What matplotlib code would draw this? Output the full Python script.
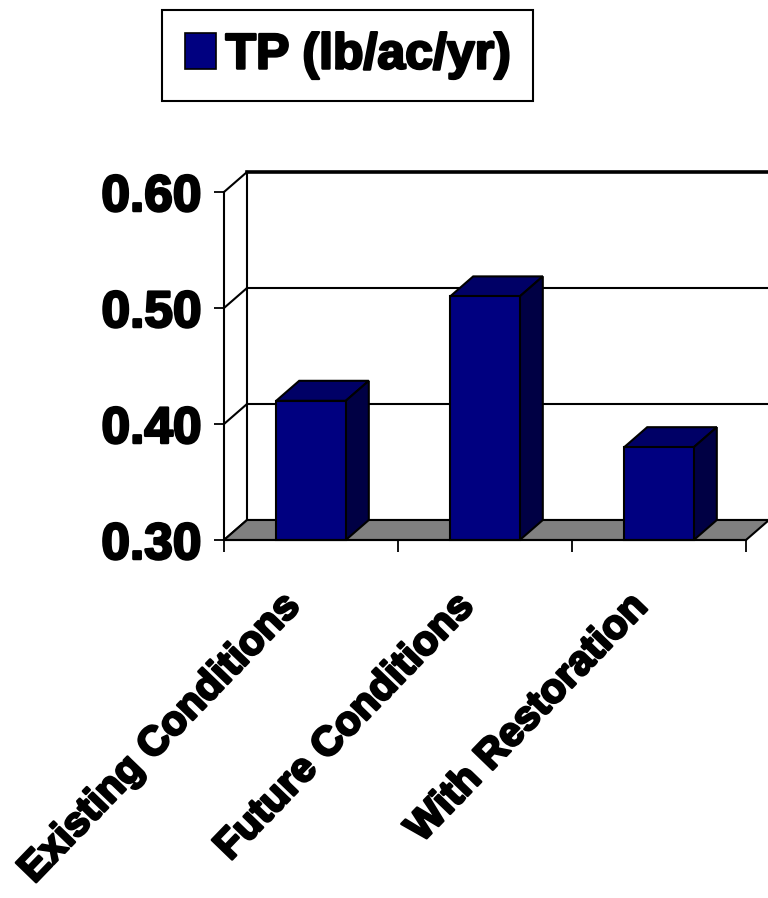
import matplotlib
matplotlib.use("Agg")
import matplotlib.pyplot as plt
from matplotlib.patches import Polygon, Patch
from matplotlib.lines import Line2D
import matplotlib.patheffects as pe
import matplotlib.transforms as mtransforms

# --- data -------------------------------------------------------------
categories = ["Existing Conditions", "Future Conditions", "With Restoration"]
tp_values = [0.42, 0.51, 0.38]
series_name = "TP (lb/ac/yr)"
y_ticks = [0.30, 0.40, 0.50, 0.60]
y_tick_labels = ["0.30", "0.40", "0.50", "0.60"]

# --- style ------------------------------------------------------------
FONT = "Liberation Sans"
FRONT = "#000080"
TOP = "#000066"
SIDE = "#000044"
FLOOR = "#808080"
heavy = [pe.withStroke(linewidth=1.8, foreground="black")]

W, H = 768, 898
fig = plt.figure(figsize=(W / 100, H / 100), dpi=100)

# front plane of the plot area, in pixels
x0, x1 = 224, 746
y_bot, y_top = 540, 192
ax = fig.add_axes([x0 / W, (H - y_bot) / H, (x1 - x0) / W, (y_bot - y_top) / H])
ymin, ymax = 0.30, 0.60
ax.set_xlim(0, len(categories))
ax.set_ylim(ymin, ymax)
ax.patch.set_visible(False)

# depth offset of the 3-D box, in data units
dx = 23 / (x1 - x0) * len(categories)
dy = 20 / (y_bot - y_top) * (ymax - ymin)

ncat = len(categories)
kw = dict(clip_on=False)

# back wall: gridlines with their diagonals on the left side wall
for v in y_ticks:
    lw = 2.6 if v == ymax else 1.5
    ax.add_line(Line2D([dx, ncat + dx], [v + dy, v + dy], color="black", lw=lw, zorder=1, **kw))
    ax.add_line(Line2D([0, dx], [v, v + dy], color="black", lw=1.5, zorder=1, **kw))
ax.add_line(Line2D([dx, dx], [ymin + dy, ymax + dy], color="black", lw=1.5, zorder=1, **kw))
ax.add_line(Line2D([ncat + dx, ncat + dx], [ymin + dy, ymax + dy], color="#c8c8c8", lw=1.2, zorder=1, **kw))

# floor
ax.add_patch(Polygon([(0, ymin), (ncat, ymin), (ncat + dx, ymin + dy), (dx, ymin + dy)],
                     closed=True, facecolor=FLOOR, edgecolor="black", lw=1.5, zorder=2, **kw))

# bars: front face via ax.bar, top and side faces as polygons
bw = 0.40
centers = [i + 0.5 for i in range(ncat)]
ax.bar(centers, [v - ymin for v in tp_values], bottom=ymin, width=bw, color=FRONT,
       edgecolor="black", linewidth=1.5, zorder=4, clip_on=False)
for c, v in zip(centers, tp_values):
    l, r = c - bw / 2, c + bw / 2
    ax.add_patch(Polygon([(l, v), (r, v), (r + dx, v + dy), (l + dx, v + dy)], closed=True,
                         facecolor=TOP, edgecolor="black", lw=1.5, zorder=3, **kw))
    ax.add_patch(Polygon([(r, ymin), (r + dx, ymin + dy), (r + dx, v + dy), (r, v)], closed=True,
                         facecolor=SIDE, edgecolor="black", lw=1.5, zorder=3, **kw))

# axes lines and ticks
for s in ["top", "right"]:
    ax.spines[s].set_visible(False)
for s in ["left", "bottom"]:
    ax.spines[s].set_linewidth(1.5)
    ax.spines[s].set_zorder(5)
ax.set_yticks(y_ticks)
ax.set_yticklabels(y_tick_labels)
ax.tick_params(axis="y", length=7.2, width=1.3, pad=9, labelsize=37)
for t in ax.get_yticklabels():
    t.set_fontfamily(FONT)
    t.set_fontweight("bold")
    t.set_path_effects(heavy)
ax.set_xticks(range(ncat + 1))
ax.tick_params(axis="x", length=8.6, width=1.3, labelbottom=False)

# category labels, rotated and ending just left of each category centre
label_trans = ax.get_xaxis_transform() + mtransforms.ScaledTranslation(-10 / 100, -68 / 100,
                                                                       fig.dpi_scale_trans)
for c, name in zip(centers, categories):
    ax.text(c, 0, name, transform=label_trans, rotation=46, rotation_mode="anchor",
            ha="right", va="baseline", fontsize=29.5, fontfamily=FONT, fontweight="bold",
            path_effects=heavy, clip_on=False)

# legend
leg = fig.legend(handles=[Patch(facecolor=FRONT, edgecolor="black", linewidth=1.2, label=series_name)],
                 loc="upper left", bbox_to_anchor=(162 / W, 1 - 10 / H), borderaxespad=0,
                 prop=dict(family=FONT, weight="bold", size=36),
                 handlelength=0.62, handleheight=0.72, handletextpad=0.2,
                 borderpad=0.45, fancybox=False, framealpha=1, edgecolor="black")
leg.get_frame().set_linewidth(1.5)
for t in leg.get_texts():
    t.set_path_effects(heavy)

fig.savefig("out.png", dpi=100)
